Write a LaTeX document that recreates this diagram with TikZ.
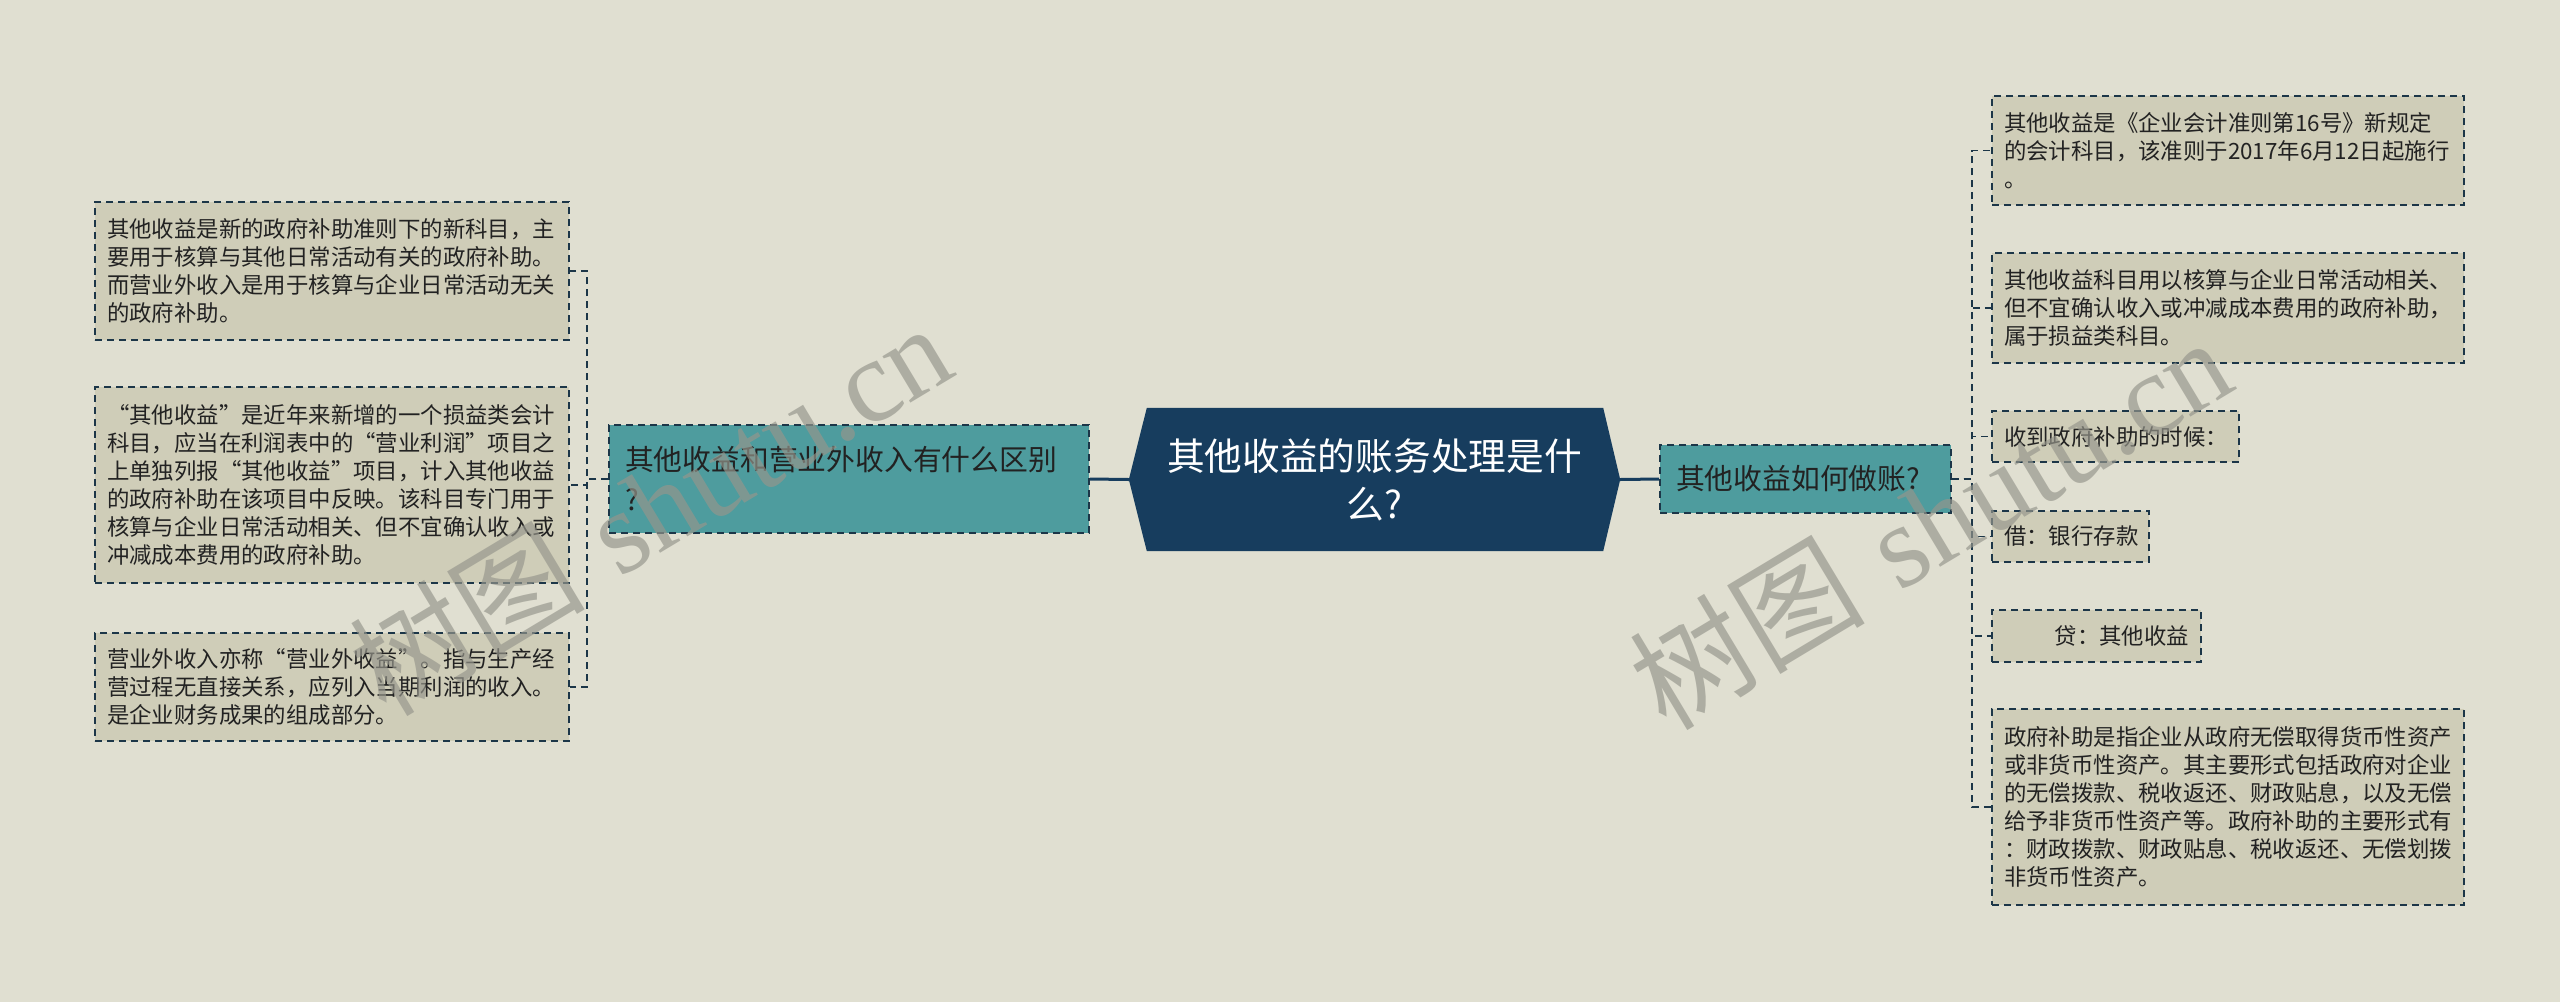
\documentclass[tikz,border=0pt]{standalone}
\usepackage{fontspec}
\newfontfamily\cjk{Noto Sans CJK SC}
\newfontfamily\wmserif{Liberation Serif}
\usetikzlibrary{backgrounds}
\definecolor{bgc}{RGB}{224,223,209}
\definecolor{leaffill}{RGB}{207,205,184}
\definecolor{tealc}{RGB}{78,156,158}
\definecolor{navyc}{RGB}{23,61,94}
\definecolor{borderc}{RGB}{28,54,72}
\definecolor{textc}{RGB}{34,34,34}
\definecolor{wmc}{RGB}{150,150,140}
\tikzset{
  boxdash/.style={draw=borderc, line width=1.8pt, dash pattern=on 7pt off 5pt},
  leaf/.style={boxdash, fill=leaffill, rectangle, inner xsep=12pt, inner ysep=4pt,
    font=\cjk\fontsize{22.4}{28}\selectfont, text=textc, align=left},
  mid/.style={boxdash, fill=tealc, rectangle, inner xsep=16pt, inner ysep=4pt,
    font=\cjk\fontsize{28.8}{40}\selectfont, text=textc, align=left},
  central/.style={rectangle, inner sep=0pt, font=\cjk\fontsize{37.7}{48}\selectfont,
    text=white, align=center, minimum width=491pt, minimum height=143pt},
  conn/.style={draw=borderc, line width=1.8pt, dash pattern=on 7pt off 5pt},
  mainconn/.style={draw=navyc, line width=3pt},
  wm/.style={text=wmc, opacity=0.68, inner sep=0pt, font=\fontsize{118}{118}\selectfont}
}
\begin{document}
\begin{tikzpicture}[x=1pt, y=-1pt]
\useasboundingbox (0,0) rectangle (2560,1002);

% central
\node[central] (C) at (1374.5,479.5) {其他收益的账务处理是什\\么?};

% middle nodes
\node[mid, minimum width=480pt, minimum height=108pt, text width=448pt] (ML) at (849,479)
  {其他收益和营业外收入有什么区别\\?};
\node[mid, minimum width=291pt, minimum height=68pt, text width=259pt] (MR) at (1805.5,479)
  {其他收益如何做账?};

% left leaves
\node[leaf, minimum width=474pt, minimum height=138pt, text width=450pt] (L1) at (332,271)
  {其他收益是新的政府补助准则下的新科目，主\\要用于核算与其他日常活动有关的政府补助。\\而营业外收入是用于核算与企业日常活动无关\\的政府补助。};
\node[leaf, minimum width=474pt, minimum height=196pt, text width=450pt] (L2) at (332,485)
  {“其他收益”是近年来新增的一个损益类会计\\科目，应当在利润表中的“营业利润”项目之\\上单独列报“其他收益”项目，计入其他收益\\的政府补助在该项目中反映。该科目专门用于\\核算与企业日常活动相关、但不宜确认收入或\\冲减成本费用的政府补助。};
\node[leaf, minimum width=474pt, minimum height=108pt, text width=450pt] (L3) at (332,687)
  {营业外收入亦称“营业外收益”。指与生产经\\营过程无直接关系，应列入当期利润的收入。\\是企业财务成果的组成部分。};

% right leaves
\node[leaf, minimum width=472pt, minimum height=109pt, text width=448pt] (R1) at (2228,150.5)
  {其他收益是《企业会计准则第16号》新规定\\的会计科目，该准则于2017年6月12日起施行\\。};
\node[leaf, minimum width=472pt, minimum height=110pt, text width=448pt] (R2) at (2228,308)
  {其他收益科目用以核算与企业日常活动相关、\\但不宜确认收入或冲减成本费用的政府补助，\\属于损益类科目。};
\node[leaf, minimum width=247pt, minimum height=51pt, text width=223pt] (R3) at (2115.5,436.5)
  {收到政府补助的时候：};
\node[leaf, minimum width=157pt, minimum height=51pt, text width=133pt] (R4) at (2070.5,536.5)
  {借：银行存款};
\node[leaf, minimum width=209pt, minimum height=52pt, text width=185pt, align=right] (R5) at (2096.5,636)
  {贷：其他收益};
\node[leaf, minimum width=472pt, minimum height=196pt, text width=448pt] (R6) at (2228,807)
  {政府补助是指企业从政府无偿取得货币性资产\\或非货币性资产。其主要形式包括政府对企业\\的无偿拨款、税收返还、财政贴息，以及无偿\\给予非货币性资产等。政府补助的主要形式有\\：财政拨款、财政贴息、税收返还、无偿划拨\\非货币性资产。};

% background and central shape
\begin{scope}[on background layer]
  \fill[bgc] (0,0) rectangle (2560,1002);
  \fill[navyc] ([xshift=18pt]C.north west) -- ([xshift=-17pt]C.north east) -- (C.east)
    -- ([xshift=-17pt]C.south east) -- ([xshift=18pt]C.south west) -- (C.west) -- cycle;
  \draw[mainconn] (C.west) -- (ML.east);
  \draw[mainconn] (C.east) -- (MR.west);
\end{scope}

% left tree connectors
\foreach \n in {L1,L2,L3} {
  \draw[conn] (ML.west) -- ++(-21,0) |- (\n.east);
}
% right tree connectors
\foreach \n in {R1,R2,R3,R4,R5,R6} {
  \draw[conn] (MR.east) -- ++(20,0) |- (\n.west);
}

% watermarks
\node[wm, rotate=31] (W1) at (650,508) {{\cjk 树图} {\wmserif shutu.cn}};
\node[wm, rotate=31] (W2) at (1930,522) {{\cjk 树图} {\wmserif shutu.cn}};
\end{tikzpicture}
\end{document}
